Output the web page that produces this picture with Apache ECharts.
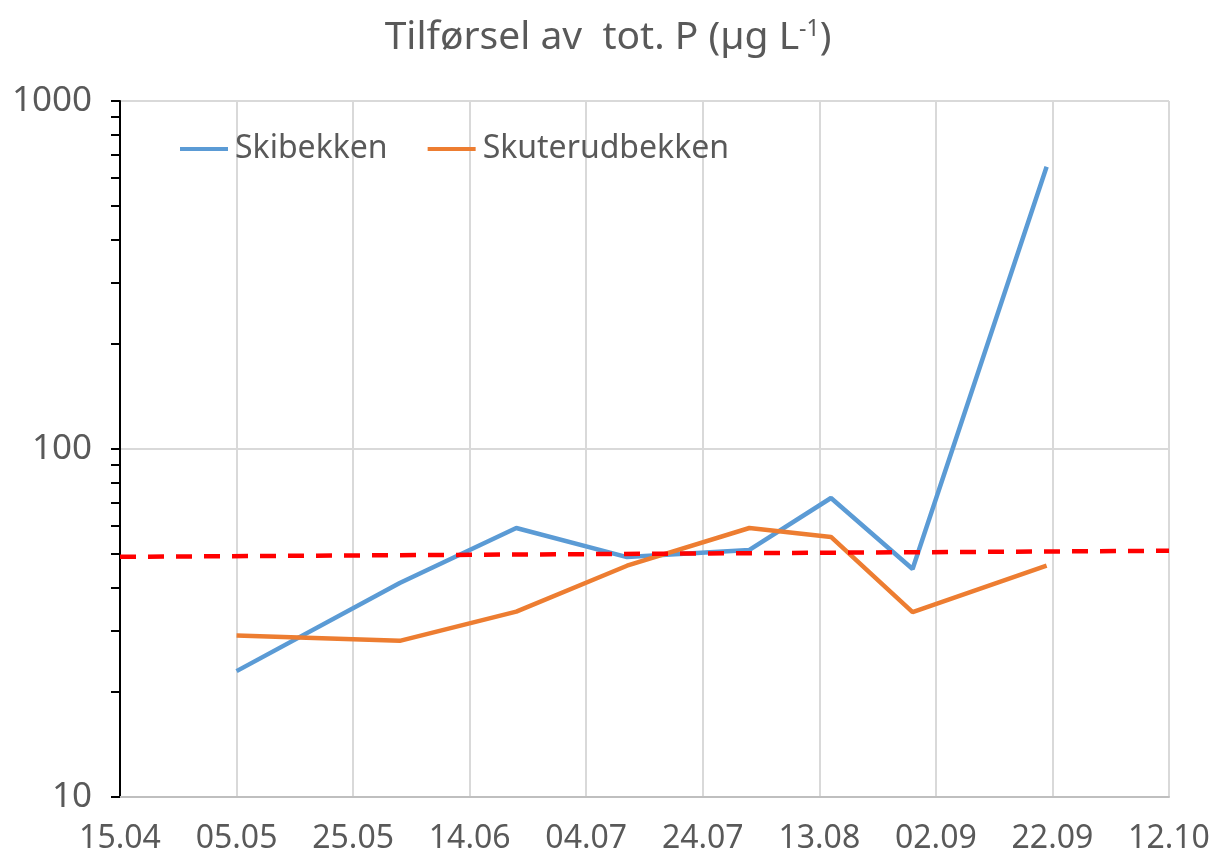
<!DOCTYPE html>
<html>
<head>
<meta charset="utf-8">
<script src="https://cdn.jsdelivr.net/npm/echarts@6/dist/echarts.min.js"></script>
<style>
  html, body {margin: 0; padding: 0; background: #fff;}
  #chart {width: 1216px; height: 859px;}
</style>
</head>
<body>
<div id="chart"></div>
<script>
// sampling dates (dd.mm) and values, ug/L tot. P
var sample_dates = ['05.05', '02.06', '22.06', '11.07', '01.08', '15.08', '29.08', '21.09'];
var skibekken = [23.0, 41.2, 59.3, 48.9, 51.3, 72.3, 45.2, 647];
var skuterudbekken = [29.1, 28.1, 34.1, 46.2, 59.3, 55.9, 34.0, 46.2];
// dashed reference line, from axis start to axis end
var ref_dates = ['15.04', '12.10'];
var ref_values = [49.0, 51.0];
var y_minor_ticks = [10, 20, 30, 40, 50, 60, 70, 80, 90, 100, 200, 300, 400, 500, 600, 700, 800, 900, 1000];

var DAY = 86400000;
var start = Date.UTC(2023, 3, 15);
function to_day(s) {
    var p = s.split('.');
    return Math.round((Date.UTC(2023, +p[1] - 1, +p[0]) - start) / DAY);
}
function to_label(d) {
    var dt = new Date(start + d * DAY);
    var dd = String(dt.getUTCDate()).padStart(2, '0');
    var mm = String(dt.getUTCMonth() + 1).padStart(2, '0');
    return `${dd}.${mm}`;
}

var font = '"Noto Sans", sans-serif';
var grey = '#595959';
var chart = echarts.init(document.getElementById('chart'));
chart.setOption({
    animation: false,
    textStyle: {fontFamily: font},
    title: {
        left: 'center', top: 13,
        text: '{t|Tilførsel av  tot. P (µg L}{s|-1}{t|)}',
        textStyle: {
            fontWeight: 'normal',
            rich: {
                t: {fontSize: 39, color: grey, fontFamily: font, fontWeight: 'normal'},
                s: {fontSize: 23, color: grey, fontFamily: font, fontWeight: 'normal', verticalAlign: 'top', padding: [0, 0, 17, 0]}
            }
        }
    },
    legend: {
        left: 175, top: 128,
        icon: 'rect', itemWidth: 48, itemHeight: 4, itemGap: 40,
        textStyle: {fontSize: 32, color: grey, fontFamily: font, padding: [0, 0, 0, 2]},
        data: ['Skibekken', 'Skuterudbekken']
    },
    grid: {left: 120, right: 47, top: 101, bottom: 62, containLabel: false},
    xAxis: {
        type: 'value', min: 0, max: 180, interval: 20,
        axisLine: {show: true, onZero: false, lineStyle: {color: '#bfbfbf', width: 2}},
        axisTick: {show: false},
        splitLine: {show: true, lineStyle: {color: '#d9d9d9', width: 2}},
        axisLabel: {fontSize: 32, color: grey, margin: 26, formatter: to_label}
    },
    yAxis: [
        {
            type: 'log', logBase: 10, min: 10, max: 1000,
            axisLine: {show: true, lineStyle: {color: '#000', width: 2}},
            axisTick: {show: true, length: 9, lineStyle: {color: '#000', width: 2}},
            splitLine: {show: true, lineStyle: {color: '#d9d9d9', width: 2}},
            axisLabel: {fontSize: 35, color: grey, margin: 28, formatter: v => String(v)}
        },
        {
            // minor ticks only
            type: 'log', logBase: 10, min: 10, max: 1000, position: 'left',
            axisLine: {show: false},
            axisTick: {show: true, length: 9, lineStyle: {color: '#000', width: 2}, customValues: y_minor_ticks},
            splitLine: {show: false},
            axisLabel: {show: false}
        }
    ],
    series: [
        {
            name: 'Skibekken', type: 'line', symbol: 'none',
            lineStyle: {color: '#5b9bd5', width: 4.5}, itemStyle: {color: '#5b9bd5'},
            data: sample_dates.map((d, i) => [to_day(d), skibekken[i]])
        },
        {
            name: 'Skuterudbekken', type: 'line', symbol: 'none',
            lineStyle: {color: '#ed7d31', width: 4.5}, itemStyle: {color: '#ed7d31'},
            data: sample_dates.map((d, i) => [to_day(d), skuterudbekken[i]])
        },
        {
            name: 'ref', type: 'line', symbol: 'none', silent: true,
            lineStyle: {color: '#ff0000', width: 4.5, type: [16, 12]},
            data: ref_dates.map((d, i) => [to_day(d), ref_values[i]])
        }
    ]
});
</script>
</body>
</html>
